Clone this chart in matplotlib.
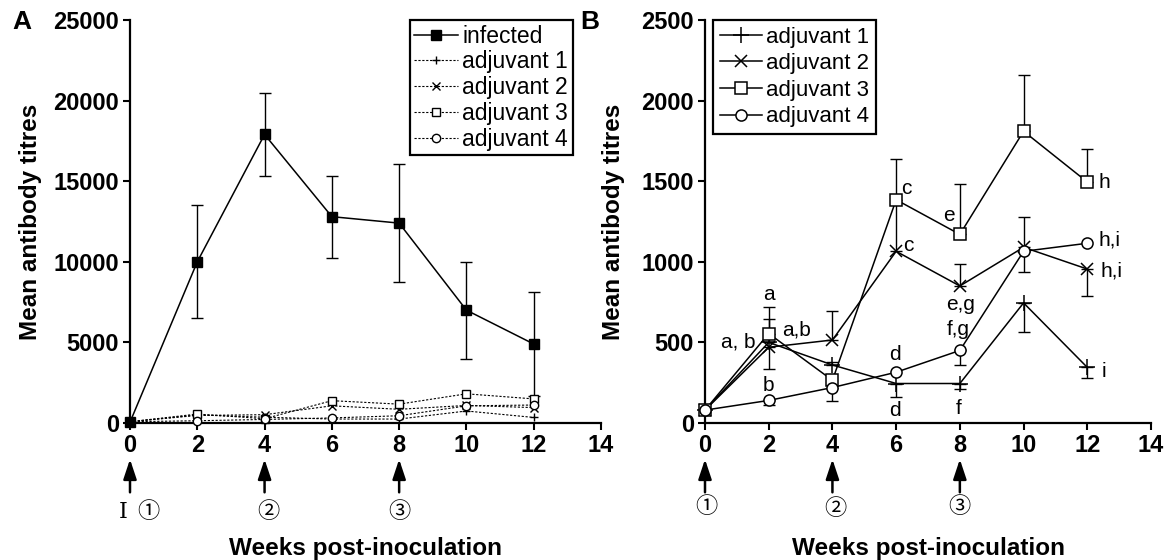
import matplotlib
matplotlib.use('Agg')
from matplotlib import pyplot as plt
import numpy as np

plt.rcParams['font.family'] = ['Liberation Sans', 'DejaVu Sans']

# data ------------------------------------------------------------
weeks = np.array([0, 2, 4, 6, 8, 10, 12])

infected = np.array([50, 10000, 17900, 12800, 12400, 7000, 4900])
infected_err = np.array([0, 3500, 2550, 2550, 3650, 3000, 3200])

adj1 = np.array([80, 500, 360, 245, 245, 745, 345])
adj1_lo = np.array([0, 0, 0, 85, 37, 180, 65])
adj1_hi = np.array([0, 145, 20, 0, 0, 0, 0])

adj2 = np.array([80, 470, 515, 1065, 850, 1090, 955])
adj2_lo = np.array([0, 135, 0, 0, 0, 0, 165])
adj2_hi = np.array([0, 0, 180, 300, 135, 185, 0])

adj3 = np.array([80, 555, 265, 1385, 1170, 1810, 1495])
adj3_lo = np.array([0, 0, 0, 0, 0, 0, 0])
adj3_hi = np.array([0, 165, 0, 255, 310, 350, 205])

adj4 = np.array([80, 140, 220, 315, 450, 1065, 1115])
adj4_lo = np.array([0, 30, 85, 0, 90, 130, 0])
adj4_hi = np.array([0, 0, 0, 0, 0, 0, 0])

adj_names = ["adjuvant 1", "adjuvant 2", "adjuvant 3", "adjuvant 4"]
adj_means = [adj1, adj2, adj3, adj4]
adj_lo = [adj1_lo, adj2_lo, adj3_lo, adj4_lo]
adj_hi = [adj1_hi, adj2_hi, adj3_hi, adj4_hi]
adj_markers = ['+', 'x', 's', 'o']

# significance letters in panel B: (text, week, titre)
letters = [("a", 2.0, 800), ("a, b", 1.05, 500), ("a,b", 2.87, 578),
           ("b", 2.0, 233), ("c", 6.32, 1455), ("c", 6.38, 1100),
           ("d", 5.97, 422), ("d", 5.97, 78), ("e", 7.67, 1289),
           ("e,g", 8.02, 733), ("f,g", 7.96, 578), ("f", 7.96, 89),
           ("h", 12.53, 1489), ("h,i", 12.7, 1133), ("h,i", 12.76, 944),
           ("i", 12.53, 322)]

boosts = [0, 4, 8]
boost_labels = ["\u2460", "\u2461", "\u2462"]

fig = plt.figure(figsize=(11.65, 5.6), dpi=100)
axA = fig.add_axes([130/1165, 137/560, 471/1165, 403/560])
axB = fig.add_axes([705/1165, 137/560, 446/1165, 403/560])


def style_axis(ax, ymax, ystep):
    for s in ['top', 'right']:
        ax.spines[s].set_visible(False)
    for s in ['left', 'bottom']:
        ax.spines[s].set_linewidth(1.6)
    ax.set_xlim(0, 14)
    ax.set_ylim(0, ymax)
    ax.set_xticks(np.arange(0, 15, 2))
    ax.set_yticks(np.arange(0, ymax + 1, ystep))
    ax.tick_params(direction='out', length=5, width=1.5, pad=3, labelsize=17)
    for lab in ax.get_xticklabels() + ax.get_yticklabels():
        lab.set_fontweight('bold')
    ax.set_xlabel("Weeks post-inoculation", fontsize=17.5, fontweight='bold')
    ax.set_ylabel("Mean antibody titres", fontsize=17.5, fontweight='bold')
    ax.xaxis.set_label_coords(0.5, -0.283)


def draw_err(ax, x, y, lo, hi, lw=1.0):
    idx = (lo > 0) | (hi > 0)
    ax.errorbar(x[idx], y[idx], yerr=[lo[idx], hi[idx]], fmt='none',
                ecolor='k', elinewidth=lw, capsize=4, capthick=lw, clip_on=False)


def draw_boosts(ax, ypos, xoff):
    for wk, lab, yy, dx in zip(boosts, boost_labels, ypos, xoff):
        ax.annotate("", xy=(wk, -0.09), xytext=(wk, -0.172),
                    xycoords=('data', 'axes fraction'),
                    arrowprops=dict(arrowstyle='-|>,head_length=0.6,head_width=0.2',
                                    mutation_scale=20, shrinkA=0, shrinkB=0,
                                    color='k', lw=1.8),
                    annotation_clip=False)
        ax.text(wk + dx, yy, lab, transform=ax.get_xaxis_transform(), ha='center',
                va='center', fontsize=16, family=['DejaVu Serif', 'Noto Sans CJK JP'])


# Panel A -------------------------------------------------------------
style_axis(axA, 25000, 5000)
axA.yaxis.set_label_coords(-0.187, 0.5)
draw_err(axA, weeks, infected, infected_err, infected_err)
axA.plot(weeks, infected, '-s', color='k', lw=1.1, markersize=7,
         markerfacecolor='k', label="infected", clip_on=False, zorder=5)
for name, y, m in zip(adj_names, adj_means, adj_markers):
    mfc = 'white' if m in ['s', 'o'] else 'k'
    axA.plot(weeks, y, linestyle=(0, (2, 1.5)), marker=m, color='k', lw=0.8,
             markersize=6, markerfacecolor=mfc, label=name, clip_on=False, zorder=4)
legA = axA.legend(loc='upper right', bbox_to_anchor=(0.94, 1.0), fontsize=16.5,
                  frameon=True, fancybox=False, edgecolor='k', framealpha=1,
                  handlelength=1.9, handletextpad=0.2, labelspacing=0.12,
                  borderpad=0.2, borderaxespad=0)
legA.get_frame().set_linewidth(1.6)
draw_boosts(axA, [-0.222, -0.222, -0.222], [0.55, 0.1, 0])
axA.text(-0.2, -0.222, "I", transform=axA.get_xaxis_transform(), ha='center',
         va='center', fontsize=16, family='DejaVu Serif')
fig.text(22/1165, 1 - 22/560, "A", fontsize=19, fontweight='bold', ha='center', va='center')

# Panel B -------------------------------------------------------------
style_axis(axB, 2500, 500)
axB.yaxis.set_label_coords(-0.179, 0.5)
for y, lo, hi in zip(adj_means, adj_lo, adj_hi):
    draw_err(axB, weeks, y, lo, hi)
for name, y, m in zip(adj_names, adj_means, adj_markers):
    mfc = 'white' if m in ['s', 'o'] else 'k'
    ms = 11 if m == '+' else 8
    axB.plot(weeks, y, '-', marker=m, color='k', lw=1.1, markersize=ms,
             markerfacecolor=mfc, markeredgewidth=1.1, label=name, clip_on=False, zorder=5)
for txt, x, y in letters:
    axB.text(x, y, txt, fontsize=15, ha='center', va='center')
legB = axB.legend(loc='upper left', bbox_to_anchor=(0.018, 1.0), fontsize=16,
                  frameon=True, fancybox=False, edgecolor='k', framealpha=1,
                  handlelength=1.9, handletextpad=0.2, labelspacing=0.25,
                  borderpad=0.3, borderaxespad=0)
legB.get_frame().set_linewidth(1.6)
draw_boosts(axB, [-0.208, -0.214, -0.208], [0.05, 0.1, 0])
fig.text(590/1165, 1 - 22/560, "B", fontsize=19, fontweight='bold', ha='center', va='center')

fig.savefig("out.png", dpi=100)
